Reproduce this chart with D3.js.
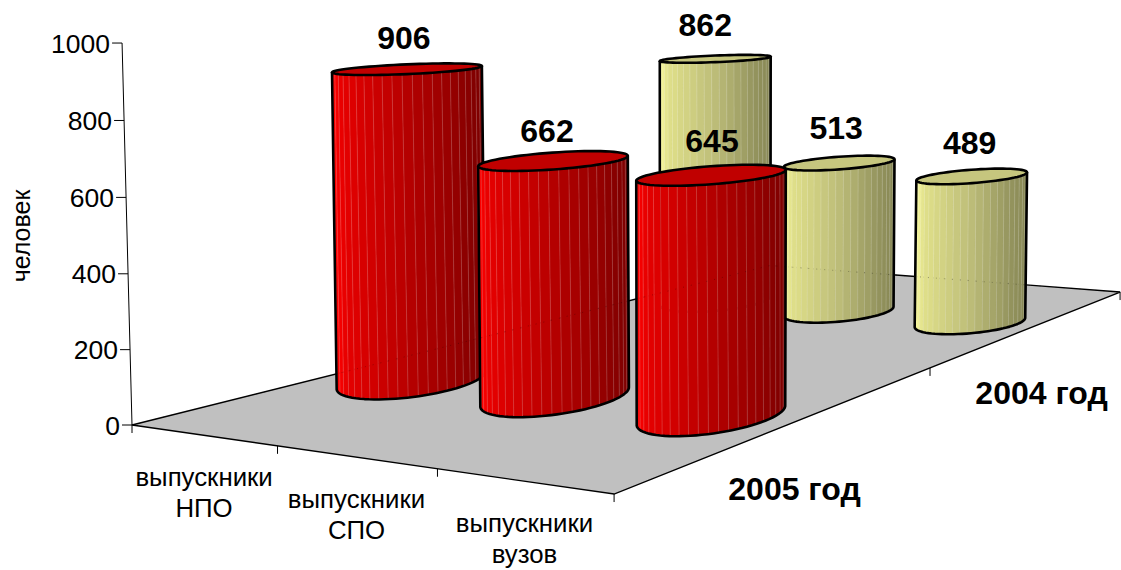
<!DOCTYPE html>
<html>
<head>
<meta charset="utf-8">
<script src="https://cdn.jsdelivr.net/npm/d3@7/dist/d3.min.js"></script>
<style>
html,body{margin:0;padding:0;background:#fff}
text{font-family:"Liberation Sans",Arial,sans-serif;fill:#000}
</style>
</head>
<body>
<svg id="chart" width="1121" height="570"></svg>
<script>
const categories = [["выпускники","НПО"],["выпускники","СПО"],["выпускники","вузов"]];
const seriesNames = ["2005 год","2004 год"];
const values2005 = [906,662,645];
const values2004 = [862,513,489];
const valueTicks = [0,200,400,600,800,1000];
const yAxisTitle = "человек";

const svg = d3.select("#chart");

// camera: floor plane (u,v) plus height z, projected to the page
const cam = {a:399,b:1079,c:132,d:2.2,e:-7.4,f:425,g:-0.1353,h:0.5727,p:-0.012,q:-0.3827,r:-0.000017};
function project(u,v,z){
  const w = cam.g*u + cam.h*v + 1 + cam.r*z;
  return [(cam.a*u + cam.b*v + cam.c + cam.p*z)/w, (cam.d*u + cam.e*v + cam.f + cam.q*z)/w];
}
const catKeys = categories.map((c,i)=>i);
const uTick = d3.scaleBand().domain(catKeys).range([0,1]);
const uBar  = d3.scalePoint().domain(catKeys).range([0.15,0.83]);
const vBand = d3.scaleBand().domain([0,1]).range([0,1]);
const vBar  = d3.scalePoint().domain([0,1]).range([0.25,0.76]);
const zScale = d3.scaleLinear().domain([0,1000]).range([0,1000]);
// the rows sit slightly lower and stand slightly taller than the camera predicts
const rowDrop = d3.scaleOrdinal().domain([0,1]).range([3,4]);
const rowGain = d3.scaleOrdinal().domain([0,1]).range([1.01,1.04]);
function cylinderEnds(s,i,val){
  const b0=project(uBar(i),vBar(s),0), t0=project(uBar(i),vBar(s),zScale(val));
  const base=[b0[0],b0[1]+rowDrop(s)];
  return {base, top:[base[0]+(t0[0]-b0[0])*rowGain(s), base[1]+(t0[1]-b0[1])*rowGain(s)]};
}

// floor
const A=project(0,0,0),B=project(1,0,0),C=project(1,1,0),D=project(0,1,0);
svg.append("path").attr("d",d3.line()([A,B,C,D])+"Z").attr("fill","#c0c0c0").attr("stroke","#000").attr("stroke-width",1.4);

// value axis
const axisG = svg.append("g");
axisG.append("line").attr("x1",project(0,0,zScale(1000))[0]).attr("y1",project(0,0,zScale(1000))[1])
  .attr("x2",A[0]).attr("y2",A[1]).attr("stroke","#000").attr("stroke-width",1);
valueTicks.forEach(t=>{
  const p = project(0,0,zScale(t));
  axisG.append("line").attr("x1",p[0]-10).attr("y1",p[1]).attr("x2",p[0]).attr("y2",p[1]).attr("stroke","#000").attr("stroke-width",1);
  axisG.append("text").attr("x",p[0]-12).attr("y",p[1]+9.5).attr("text-anchor","end").attr("font-size",26.5).text(t);
});
// category and series ticks
[0,1,2,3].forEach(i=>{
  const p = project(i/3,0,0);
  axisG.append("line").attr("x1",p[0]).attr("y1",p[1]).attr("x2",p[0]).attr("y2",p[1]+8).attr("stroke","#000");
});
[0.5,1].forEach(v=>{
  const p = project(1,v,0);
  axisG.append("line").attr("x1",p[0]).attr("y1",p[1]).attr("x2",p[0]).attr("y2",p[1]+8).attr("stroke","#000");
});

// cylinder shape helpers: ellipse proportion and tilt follow page height
const aspect = d3.scaleLinear().domain([60,416]).range([0.06,0.245]);
const tilt = d3.scaleLinear().domain([60,170,322,400]).range([-2.3,-4.2,-5,-8]).clamp(true);
const radius = d3.scaleOrdinal().domain([0,1]).range([75,55.5]);
const palettes = [
  {stops:["#ff0000","#e40000","#b40000","#960000","#7c0000"],cap:"#c00000"},
  {stops:["#fbfb9c","#e0e08a","#bcbc78","#9a9a62","#868654"],cap:"#c6c67e"}
];
const shadeDomain=[0,0.07,0.5,0.8,1];
const facets = d3.range(23);

function ellipsePoint(cen,rx,theta){
  const ry = rx*aspect(cen[1]), T = tilt(cen[1])*Math.PI/180;
  const ca=rx*Math.cos(theta), sb=ry*Math.sin(theta);
  return [cen[0]+ca*Math.cos(T)-sb*Math.sin(T), cen[1]+ca*Math.sin(T)+sb*Math.cos(T)];
}
const thetaAt = i => Math.PI*(1-i/facets.length);

function drawCylinder(s,i,val){
  const rx=radius(s);
  const {base,top}=cylinderEnds(s,i,val);
  const shade=d3.scaleLinear().domain(shadeDomain).range(palettes[s].stops);
  const tone=k=>shade((1+Math.cos(thetaAt(k+0.5)))/2);
  const g=svg.append("g");
  g.selectAll("path.facet").data(facets).join("path").attr("class","facet")
    .attr("d",k=>{
      const a=thetaAt(k), b=thetaAt(k+1);
      return d3.line()([ellipsePoint(top,rx,a),ellipsePoint(top,rx,b),ellipsePoint(base,rx,b),ellipsePoint(base,rx,a)])+"Z";
    })
    .attr("fill",tone).attr("stroke",tone).attr("stroke-width",0.5);
  g.selectAll("line.seam").data(facets.slice(1)).join("line").attr("class","seam")
    .attr("x1",k=>ellipsePoint(top,rx,thetaAt(k))[0]).attr("y1",k=>ellipsePoint(top,rx,thetaAt(k))[1])
    .attr("x2",k=>ellipsePoint(base,rx,thetaAt(k))[0]).attr("y2",k=>ellipsePoint(base,rx,thetaAt(k))[1])
    .attr("stroke","#fff").attr("stroke-opacity",0.22).attr("stroke-width",0.8);
  const arc=d3.range(0,41).map(n=>ellipsePoint(base,rx,Math.PI*(1-n/40)));
  const outline=[ellipsePoint(top,rx,Math.PI),...arc,ellipsePoint(top,rx,0)];
  g.append("path").attr("d",d3.line()(outline)).attr("fill","none").attr("stroke","#000").attr("stroke-width",2.6).attr("stroke-linejoin","round");
  const cap=d3.range(0,72).map(n=>ellipsePoint(top,rx,n/72*2*Math.PI));
  g.append("path").attr("d",d3.line()(cap)+"Z").attr("fill",palettes[s].cap).attr("stroke","#000").attr("stroke-width",2.6);
}
values2004.forEach((val,i)=>drawCylinder(1,i,val));
values2005.forEach((val,i)=>drawCylinder(0,i,val));

// faint see-through trace of the floor's back edge
svg.append("path").attr("d",d3.line()([A,D,C])).attr("fill","none")
  .attr("stroke","#000").attr("stroke-opacity",0.28).attr("stroke-width",1).attr("stroke-dasharray","1 7");

// value labels
const labelNudge = [[[-3,0],[-6,1],[1,-3]],[[-10,-1],[-3,-2],[-2,0]]];
[[values2004,1],[values2005,0]].forEach(([vals,s])=>vals.forEach((val,i)=>{
  const t=cylinderEnds(s,i,val).top, n=labelNudge[s][i];
  svg.append("text").attr("x",t[0]+n[0]).attr("y",t[1]-20-(s?2:0)+n[1]).attr("text-anchor","middle")
    .attr("font-size",32).attr("font-weight","bold").text(val);
}));

// category labels
categories.forEach((lines,i)=>{
  const p=project(uTick(i)+uTick.bandwidth()/2,0,0);
  lines.forEach((ln,k)=>{
    svg.append("text").attr("x",p[0]+1).attr("y",p[1]+51+k*31).attr("text-anchor","middle").attr("font-size",25.8).text(ln);
  });
});
// series labels
seriesNames.forEach((nm,s)=>{
  const p=project(1,vBand(s)+vBand.bandwidth()/2,0);
  svg.append("text").attr("x",p[0]+(s?6:0)).attr("y",p[1]+78).attr("text-anchor","middle")
    .attr("font-size",32).attr("font-weight","bold").text(nm);
});
// axis title
svg.append("text").attr("transform","translate(30,236) rotate(-90)").attr("text-anchor","middle").attr("font-size",25).text(yAxisTitle);
</script>
</body>
</html>
